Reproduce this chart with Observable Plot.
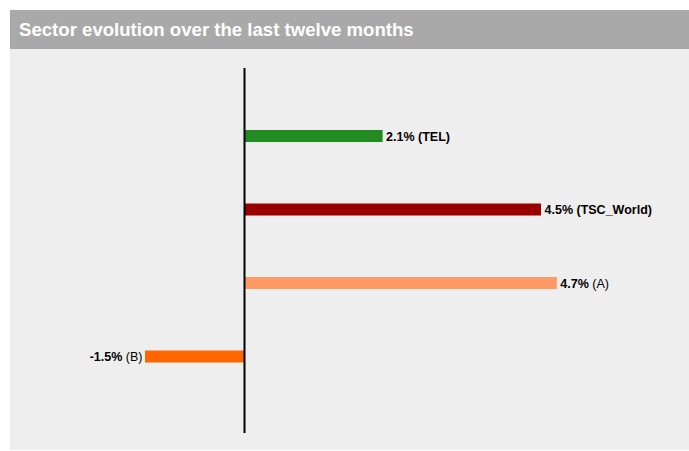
<!DOCTYPE html>
<html>
<head>
<meta charset="utf-8">
<script src="https://cdn.jsdelivr.net/npm/d3@7"></script>
<script src="https://cdn.jsdelivr.net/npm/@observablehq/plot@0.6"></script>
<style>
  html, body { margin: 0; padding: 0; background: #ffffff; }
  body { font-family: "Liberation Sans", Arial, sans-serif; width: 689px; height: 451px; overflow: hidden; position: relative; }
  #wrap { position: absolute; left: 10px; top: 10px; width: 679px; }
  #title { height: 39px; background: #a9a9a9; color: #ffffff; font-weight: bold; font-size: 18.6px; line-height: 39px; padding-left: 9px; white-space: nowrap; }
  #chart { background: #eeeeee; height: 401px; }
  #chart svg { display: block; }
</style>
</head>
<body>
<div id="wrap">
  <div id="title">Sector evolution over the last twelve months</div>
  <div id="chart"></div>
</div>
<script>
const categories = ["TEL", "TSC_World", "A", "B"];
const values = [2.1, 4.5, 4.74, -1.5];
const colors = ["#228b22", "#990000", "#ff9966", "#ff6600"];
const nameBold = [true, true, false, false];

const data = categories.map((c, i) => ({
  name: c,
  value: values[i],
  color: colors[i],
  bold: nameBold[i],
  pct: values[i].toFixed(1) + "%",
  label: values[i].toFixed(1) + "% (" + c + ")"
}));

function richLabels(index, scales, vals, dims, context, next) {
  const g = next(index, scales, vals, dims, context);
  const texts = g.querySelectorAll("text");
  texts.forEach((t, j) => {
    const d = data[index[j]];
    while (t.firstChild) t.removeChild(t.firstChild);
    const ns = "http://www.w3.org/2000/svg";
    const a = document.createElementNS(ns, "tspan");
    a.setAttribute("font-weight", "bold");
    a.textContent = d.pct;
    const b = document.createElementNS(ns, "tspan");
    b.setAttribute("font-weight", d.bold ? "bold" : "normal");
    b.textContent = " (" + d.name + ")";
    t.appendChild(a);
    t.appendChild(b);
  });
  return g;
}

const chart = Plot.plot({
  width: 679,
  height: 401,
  marginTop: 19,
  marginBottom: 17,
  marginLeft: 0,
  marginRight: 0,
  style: { background: "transparent", fontFamily: "Liberation Sans, Arial, sans-serif", fontSize: "12.5px", color: "#000" },
  x: { domain: [-1.5, 4.5], range: [135, 531], axis: null },
  y: { domain: categories, range: [50.25, 344.25], paddingInner: 0.837, paddingOuter: 0.4185, round: false, axis: null },
  marks: [
    Plot.barX(data, { x: "value", y: "name", fill: "color" }),
    Plot.ruleX([0], { stroke: "#000", strokeWidth: 2 }),
    Plot.text(data, { filter: d => d.value >= 0, x: "value", y: "name", text: "label", textAnchor: "start", dx: 3, fill: "#000", render: richLabels }),
    Plot.text(data, { filter: d => d.value < 0, x: "value", y: "name", text: "label", textAnchor: "end", dx: -3, fill: "#000", render: richLabels })
  ]
});
document.getElementById("chart").appendChild(chart);
</script>
</body>
</html>
